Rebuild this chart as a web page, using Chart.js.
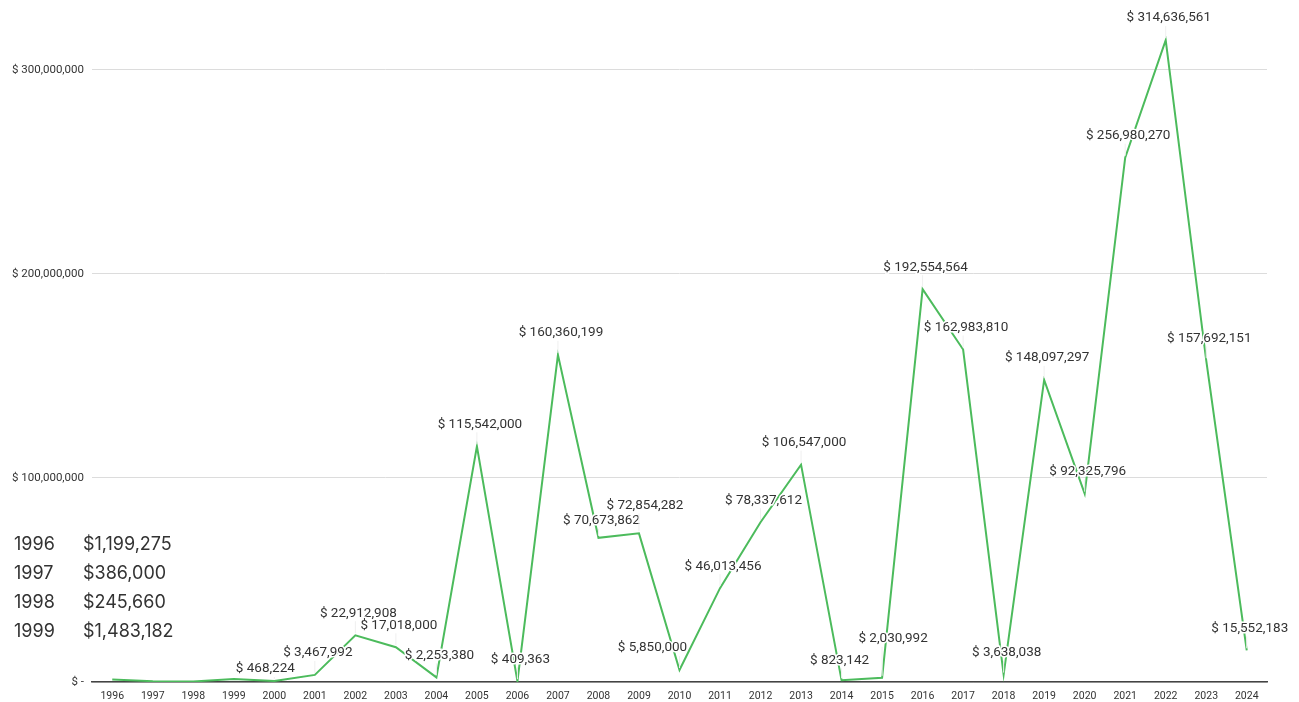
<!DOCTYPE html>
<html lang="en">

<head>
    <meta charset="UTF-8">
    <title>Yearly totals</title>
    <script src="https://cdn.jsdelivr.net/npm/chart.js@4.4.0/dist/chart.umd.min.js"></script>
    <style>
        body { margin: 0; background: #fff; }
        #wrap { position: relative; width: 1299px; height: 702px; }
        #early { position: absolute; left: 14px; top: 529px; font-family: Inter, 'Noto Sans', sans-serif;
            font-size: 18px; color: #333; line-height: 29px; }
        #early span { display: inline-block; width: 69px; }
    </style>
</head>

<body>
    <div id="wrap">
        <canvas id="myChart" width="1299" height="702"></canvas>
        <div id="early"></div>
    </div>
    <script>
        const years = ['1996', '1997', '1998', '1999', '2000', '2001', '2002', '2003', '2004', '2005',
            '2006', '2007', '2008', '2009', '2010', '2011', '2012', '2013', '2014', '2015',
            '2016', '2017', '2018', '2019', '2020', '2021', '2022', '2023', '2024'];
        const amounts = [1199275, 386000, 245660, 1483182, 468224, 3467992, 22912908, 17018000, 2253380, 115542000,
            409363, 160360199, 70673862, 72854282, 5850000, 46013456, 78337612, 106547000, 823142, 2030992,
            192554564, 162983810, 3638038, 148097297, 92325796, 256980270, 314636561, 157692151, 15552183];
        const yTicks = [0, 100000000, 200000000, 300000000];
        // first years are listed beside the chart instead of labelled on the line
        const listedYears = ['1996', '1997', '1998', '1999'];

        const fmt = n => n.toLocaleString('en-US');

        document.getElementById('early').innerHTML = listedYears
            .map(y => '<div><span>' + y + '</span>$' + fmt(amounts[years.indexOf(y)]) + '</div>')
            .join('');

        // small shifts so crowded labels don't collide
        const nudge = { '2000': [-12, 10], '2008': [0, 5], '2009': [3, -6], '2010': [-30, 0], '2014': [-5, 2], '2015': [8, -17] };

        const valueLabels = {
            id: 'valueLabels',
            afterDatasetsDraw(chart) {
                const c = chart.ctx;
                const meta = chart.getDatasetMeta(0);
                c.save();
                c.font = '13.5px Roboto, sans-serif';
                c.textAlign = 'center';
                c.textBaseline = 'middle';
                meta.data.forEach((pt, i) => {
                    if (listedYears.includes(years[i])) return;
                    const d = nudge[years[i]] || [0, 0];
                    const x = pt.x + 3 + d[0];
                    const y = pt.y - 22 + d[1];
                    c.strokeStyle = '#efefef';
                    c.lineWidth = 1;
                    c.beginPath();
                    c.moveTo(pt.x, y + 8);
                    c.lineTo(pt.x, pt.y - 2);
                    c.stroke();
                    const txt = '$ ' + fmt(amounts[i]);
                    c.lineWidth = 3;
                    c.strokeStyle = '#fff';
                    c.strokeText(txt, x, y);
                    c.fillStyle = '#333';
                    c.fillText(txt, x, y);
                });
                c.restore();
            }
        };

        const ctx = document.getElementById('myChart');

        new Chart(ctx, {
            type: 'line',
            data: {
                labels: years,
                datasets: [{
                    label: 'Amount',
                    data: amounts,
                    borderColor: '#4cbb5c',
                    borderWidth: 2,
                    pointRadius: 0,
                    tension: 0
                }]
            },
            options: {
                responsive: false,
                animation: false,
                layout: { padding: { top: 3, right: 32 } },
                plugins: { legend: { display: false }, tooltip: { enabled: false } },
                scales: {
                    x: {
                        offset: true,
                        grid: { display: false },
                        border: { display: true, color: '#444', width: 1.5 },
                        ticks: { color: '#333', font: { family: 'Roboto', size: 10.5 }, padding: 0, maxRotation: 0, autoSkip: false },
                        afterFit: s => { s.height = 20; }
                    },
                    y: {
                        min: 0,
                        max: 327000000,
                        grid: { color: '#dcdcdc', drawTicks: false },
                        border: { display: false },
                        afterBuildTicks: s => { s.ticks = yTicks.map(v => ({ value: v })); },
                        ticks: {
                            color: '#333',
                            font: { family: 'Roboto', size: 11.5 },
                            padding: 8,
                            callback: v => v === 0 ? '$ -' : '$ ' + fmt(v)
                        },
                        afterFit: s => { s.width = 92; }
                    }
                }
            },
            plugins: [valueLabels]
        });
    </script>
</body>

</html>
